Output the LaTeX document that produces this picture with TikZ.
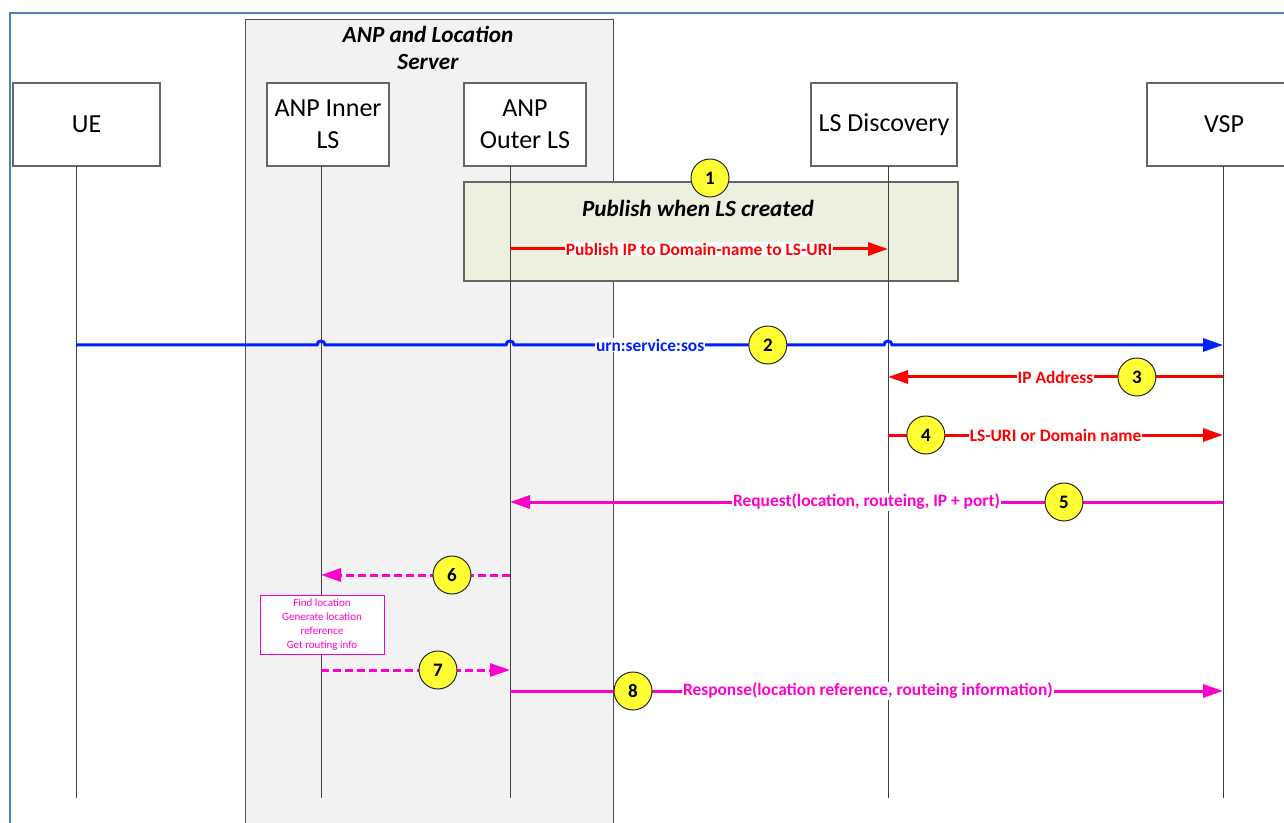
\documentclass[tikz,border=0pt]{standalone}
\usepackage{fontspec}
\setmainfont{Carlito}
\usetikzlibrary{arrows.meta}

\definecolor{frameblue}{RGB}{79,129,189}
\definecolor{groupgray}{RGB}{242,242,242}
\definecolor{publishgreen}{RGB}{235,241,222}
\definecolor{badgeyellow}{RGB}{255,255,51}
\definecolor{msgmagenta}{RGB}{255,0,204}
\definecolor{msgblue}{RGB}{0,32,255}

\begin{document}
\begin{tikzpicture}[
    x = 0.5pt,
    y = -0.5pt,
    actor/.style = {draw=black!60, line width=0.7pt, fill=white, inner sep=0pt,
      minimum height=41.5pt, align=center, font=\fontsize{13}{16}\selectfont},
    badge/.style = {circle, draw=black!85, line width=0.5pt, fill=badgeyellow, text=black,
      minimum size=19pt, inner sep=0pt, font=\bfseries\fontsize{9.5}{10}\selectfont},
    msg/.style = {fill=white, inner sep=0.4pt, font=\bfseries\fontsize{8.7}{10}\selectfont},
    msgarrow/.style = {line width=1.5pt, -{Triangle[length=10pt, width=6.5pt]}},
    ]
    \useasboundingbox (0,0) rectangle (1284,823);
    % frame
    \draw[frameblue, line width=1pt] (10,823) -- (10,13) -- (1290,13);
    % group box
    \draw[black!70, line width=0.5pt, fill=groupgray] (245,20) rectangle (613,830);
    \node[align=center, font=\bfseries\itshape\fontsize{11.6}{13.5}\selectfont] (grouptitle)
      at (428,47.5) {ANP and Location\\Server};
    % publish box
    \draw[black!60, line width=0.6pt, fill=publishgreen] (464,182) rectangle (958,281);
    \node[font=\bfseries\itshape\fontsize{11.6}{13}\selectfont] (publishtitle)
      at (698,208) {Publish when LS created};
    % actors
    \node[actor, minimum width=73.5pt] (ue) at (86.5,124.5) {UE};
    \node[actor, minimum width=61pt] (inner) at (328,124.5) {ANP Inner\\LS};
    \node[actor, minimum width=61pt] (outer) at (525,124.5) {ANP\\Outer LS};
    \node[actor, minimum width=73pt] (lsd) at (884,124.5) {LS Discovery};
    \node[actor, minimum width=77pt] (vsp) at (1224,124.5) {VSP};
    % lifelines
    \coordinate (L-ue) at (76,166);
    \coordinate (L-inner) at (321,166);
    \coordinate (L-outer) at (510,166);
    \coordinate (L-lsd) at (888,166);
    \coordinate (L-vsp) at (1223,166);
    \coordinate (bottom) at (0,798);
    \foreach \n in {ue, inner, outer, lsd, vsp}
    \draw[black!75, line width=0.5pt] (L-\n) -- (L-\n |- bottom);
    % message rows
    \coordinate (m1) at (0,249);
    \coordinate (m2) at (0,345);
    \coordinate (m3) at (0,377);
    \coordinate (m4) at (0,435);
    \coordinate (m5) at (0,502);
    \coordinate (m6) at (0,575);
    \coordinate (m7) at (0,670);
    \coordinate (m8) at (0,691);
    % 1
    \draw[msgarrow, red] (L-outer |- m1) -- (L-lsd |- m1)
      node[msg, text=red, midway] (t1) {Publish IP to Domain-name to LS-URI};
    % 2 (line hops over the lifelines)
    \draw[msgarrow, msgblue] (L-ue |- m2)
      -- ([xshift=-2pt]L-inner |- m2) .. controls +(0,-5.3) and +(0,-5.3) .. ([xshift=2pt]L-inner |- m2)
      -- ([xshift=-2pt]L-outer |- m2) .. controls +(0,-5.3) and +(0,-5.3) .. ([xshift=2pt]L-outer |- m2)
      -- node[msg, text=msgblue, pos=0.368] (t2) {urn:service:sos}
         node[badge, pos=0.686] (c2) {2}
         ([xshift=-2pt]L-lsd |- m2) .. controls +(0,-5.3) and +(0,-5.3) .. ([xshift=2pt]L-lsd |- m2)
      -- (L-vsp |- m2);
    % 3
    \draw[msgarrow, red] (L-vsp |- m3) -- (L-lsd |- m3)
      node[msg, text=red, pos=0.5] (t3) {IP Address}
      node[badge, pos=0.257] (c3) {3};
    % 4
    \draw[msgarrow, red] (L-lsd |- m4) -- (L-vsp |- m4)
      node[msg, text=red, pos=0.5] (t4) {LS-URI or Domain name}
      node[badge, pos=0.113] (c4) {4};
    % 5
    \draw[msgarrow, msgmagenta] (L-vsp |- m5) -- (L-outer |- m5)
      node[msg, text=msgmagenta, pos=0.5] (t5) {Request(location, routeing, IP + port)}
      node[badge, pos=0.223] (c5) {5};
    % 6
    \draw[msgarrow, msgmagenta, dash pattern=on 4pt off 2pt] (L-outer |- m6) -- (L-inner |- m6)
      node[badge, solid, pos=0.307] (c6) {6};
    % note
    \node[draw=msgmagenta, line width=0.5pt, fill=white, text=msgmagenta, align=center,
      minimum width=62pt, minimum height=29.5pt, inner sep=0pt,
      font=\fontsize{5.5}{7}\selectfont] (note) at (322,624.5)
      {Find location\\Generate location\\reference\\Get routing info};
    % 7
    \draw[msgarrow, msgmagenta, dash pattern=on 4pt off 2pt] (L-inner |- m7) -- (L-outer |- m7)
      node[badge, solid, pos=0.619] (c7) {7};
    % 8
    \draw[msgarrow, msgmagenta] (L-outer |- m8) -- (L-vsp |- m8)
      node[msg, text=msgmagenta, pos=0.502] (t8) {Response(location reference, routeing information)}
      node[badge, pos=0.1725] (c8) {8};
    % badge 1
    \node[badge] (c1) at (710,178) {1};
  \end{tikzpicture}
\end{document}
